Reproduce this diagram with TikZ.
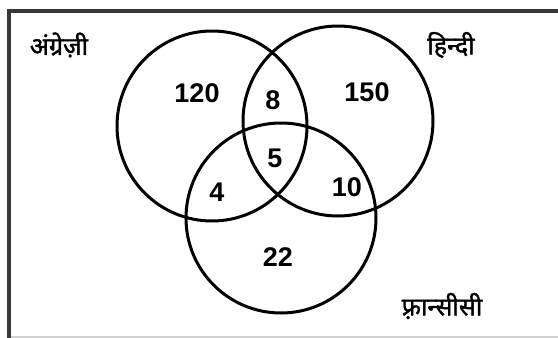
\documentclass[tikz,border=0pt]{standalone}
\usepackage{fontspec}
\setmainfont{Liberation Sans}
\newfontfamily\hindifont[Script=Devanagari,FakeBold=1.5]{Noto Sans}
\usetikzlibrary{positioning}

\begin{document}
\begin{tikzpicture}[x=1pt,y=-1pt,
  set/.style={circle,draw,line width=3pt,minimum size=190pt,inner sep=0pt},
  num/.style={font=\fontsize{27}{27}\selectfont\bfseries,inner sep=0pt},
  lbl/.style={font=\hindifont\fontsize{25}{28}\selectfont,inner sep=0pt}]
\useasboundingbox (0,0) rectangle (558,338);
\draw[line width=3.5pt,black!78] (558,11.2) -- (9,11.2) -- (9,338);
\draw[line width=1.5pt,black!18] (11,336.8) -- (558,336.8);

\node[set] (eng) at (212,126) {};
\node[set] (hin) at (338,121) {};
\node[set] (fre) at (281,218) {};

\node[lbl] (engname) at (59,45) {अंग्रेज़ी};
\node[lbl] (hinname) at (451,45) {हिन्दी};
\node[lbl] (frename) at (442,306) {फ़्रान्सीसी};

\node[num] (onlyeng) at (197,93) {120};
\node[num] (enghin) at (273,100) {8};
\node[num] (onlyhin) at (367,92) {150};
\node[num] (all) at (275,158) {5};
\node[num] (engfre) at (217,192) {4};
\node[num] (hinfre) at (347,187) {10};
\node[num] (onlyfre) at (278,257) {22};
\end{tikzpicture}
\end{document}
